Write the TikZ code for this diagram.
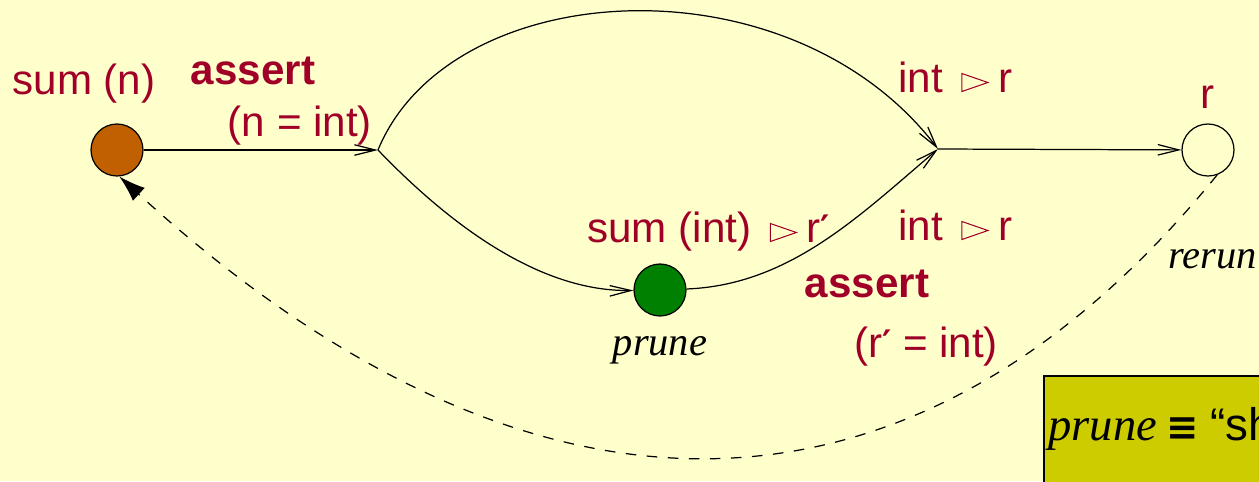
\documentclass[tikz,border=0pt]{standalone}
\usepackage{fontspec}
\setsansfont{Liberation Sans}
\newfontfamily\dejavu{DejaVu Sans}
\newfontfamily\serifit{Liberation Serif}
\usetikzlibrary{arrows.meta}
\definecolor{bgyellow}{RGB}{255,255,204}
\definecolor{darkred}{RGB}{160,0,40}
\definecolor{orangenode}{RGB}{192,96,0}
\definecolor{greennode}{RGB}{0,128,0}
\definecolor{boxyellow}{RGB}{204,204,0}
\newcommand{\tri}{\hspace{0.37cm}\tikz[baseline=0pt,x=1cm,y=1cm]\draw[darkred, line width=0.6pt, line join=miter] (0cm,0.01cm) -- (0.52cm,0.19cm) -- (0cm,0.37cm) -- cycle;\hspace{0.2cm}}
\newcommand{\prm}{{\dejavu\bfseries\fontsize{20}{24}\selectfont\raisebox{1pt}{′}}}
\begin{document}
\begin{tikzpicture}[x=0.02cm,y=-0.02cm,
  lbl/.style={text=darkred, font=\sffamily\fontsize{24}{28}\selectfont, inner sep=0pt, anchor=base},
  blbl/.style={lbl, font=\sffamily\bfseries\fontsize{24}{28}\selectfont},
  itl/.style={text=black, font=\serifit\itshape\fontsize{23}{27}\selectfont, inner sep=0pt, anchor=base},
  state/.style={circle, draw=black, line width=0.7pt, minimum size=1.04cm, inner sep=0pt},
  edge/.style={line width=0.7pt, -{Straight Barb[length=12pt,width=6pt]}},
  back/.style={line width=0.7pt, dash pattern=on 6pt off 6pt, -{Latex[length=15pt,width=10pt]}}]
\fill[bgyellow] (0,0) rectangle (1259,481);
\clip (0,0) rectangle (1259,481);
% states
\node[state, fill=orangenode] (sumn) at (117,150) {};
\coordinate (j1) at (378,150);
\coordinate (j2) at (938,149);
\node[state, fill=greennode] (prune) at (660,290) {};
\node[state] (r) at (1208,150) {};
% edges
\draw[edge] (sumn) -- (j1);
\draw[edge] (j1) .. controls (450,-25) and (790,-45) .. (j2);
\draw[edge] (j1) .. controls (450,225) and (540,292) .. (prune);
\draw[edge] (prune) .. controls (790,285) and (860,215) .. (j2);
\draw[edge] (j2) -- (r);
\draw[back] (r.-70) .. controls (920,540) and (540,560) .. (sumn.-85);
% labels
\node[lbl] (lsumn) at (84,94) {sum (n)};
\node[blbl] (lassert1) at (253,84) {assert};
\node[lbl] (lneq) at (300,136) {(n = int)};
\node[lbl, anchor=base west] (lintr1) at (898,92) {int\tri r};
\node[lbl] (lr) at (1208,108) {r};
\node[lbl, anchor=base west] (lsumint) at (587,242) {sum (int)\tri r\prm};
\node[lbl, anchor=base west] (lintr2) at (898,240) {int\tri r};
\node[blbl] (lassert2) at (867,297) {assert};
\node[lbl] (lreq) at (926,357) {(r\prm\ = int)};
\node[itl] (lprune) at (660,355) {prune};
\node[itl, anchor=base west] (lrerun) at (1168,268) {rerun};
% note box
\node[draw=black, line width=1pt, fill=boxyellow, anchor=north west, minimum width=6cm, minimum height=3cm] (box) at (1043,375) {};
\node[anchor=base west, inner sep=0pt] (boxtext) at (1048,440) {{\serifit\itshape\fontsize{26.5}{30}\selectfont prune}\hspace{0.2cm}{\dejavu\bfseries\fontsize{22}{26}\selectfont ≡}\hspace{0.22cm}{\sffamily\fontsize{26}{30}\selectfont “sh}};
\end{tikzpicture}
\end{document}
